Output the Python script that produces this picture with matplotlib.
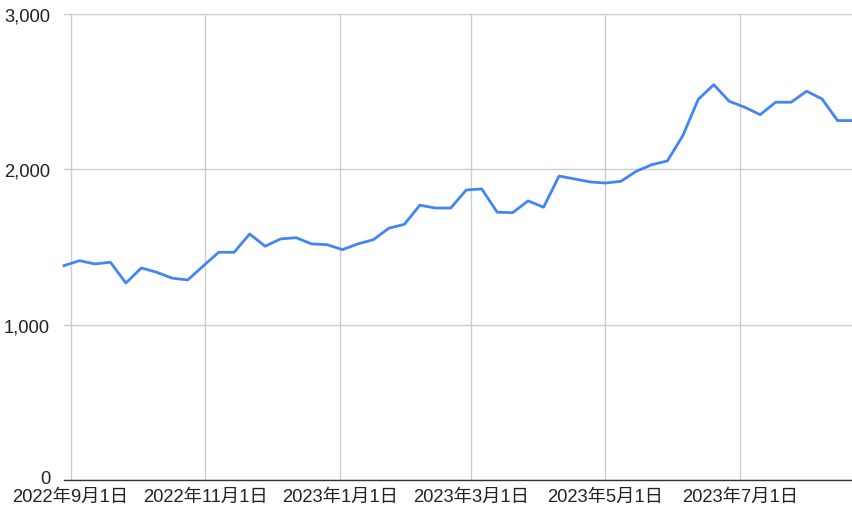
import matplotlib
matplotlib.use("Agg")
import matplotlib.pyplot as plt
import matplotlib.ticker as mticker
import matplotlib.transforms as mtransforms
import pandas as pd

plt.rcParams['font.family'] = ['Liberation Sans', 'Noto Sans CJK JP', 'DejaVu Sans']

dates = pd.date_range("2022-08-29", periods=52, freq="7D")
values = [1380, 1412, 1391, 1402, 1268, 1365, 1337, 1299, 1288, 1378,
          1466, 1466, 1584, 1505, 1552, 1560, 1520, 1515, 1483, 1520,
          1547, 1621, 1646, 1769, 1751, 1751, 1867, 1874, 1724, 1721,
          1797, 1756, 1957, 1938, 1919, 1912, 1923, 1988, 2030, 2054,
          2217, 2451, 2545, 2438, 2400, 2352, 2432, 2432, 2503, 2453,
          2314, 2314]
tick_dates = pd.to_datetime(["2022-09-01", "2022-11-01", "2023-01-01",
                             "2023-03-01", "2023-05-01", "2023-07-01"])
tick_labels = ["2022年9月1日", "2022年11月1日", "2023年1月1日",
               "2023年3月1日", "2023年5月1日", "2023年7月1日"]
y_ticks = [0, 1000, 2000, 3000]

fig = plt.figure(figsize=(8.53, 5.10), dpi=100)
ax = fig.add_axes([64/853, 1-481/510, 1-64/853, (481-15)/510])

ax.plot(dates, values, color="#4285F4", linewidth=2.0, solid_joinstyle="round", zorder=3, clip_on=False)

ax.set_xlim(dates[0], dates[-1])
ax.set_ylim(0, 3000)
ax.set_xticks(tick_dates)
ax.set_xticklabels(tick_labels)
ax.set_yticks(y_ticks)
ax.yaxis.set_major_formatter(mticker.FuncFormatter(lambda v, p: f"{int(v):,}"))

ax.grid(True, color="#cccccc", linewidth=1.0)
ax.set_axisbelow(True)
for s in ["top", "right", "left"]:
    ax.spines[s].set_visible(False)
ax.spines["bottom"].set_color("#333333")
ax.spines["bottom"].set_linewidth(1.0)
ax.spines["bottom"].set_zorder(4)

ax.tick_params(axis="both", length=0, labelsize=13.2, colors="#222222")
ax.tick_params(axis="x", pad=6)
ax.tick_params(axis="y", pad=10)

# nudge the "0" label slightly upward so it does not collide with the first date label
fig.canvas.draw()
zero_lbl = ax.get_yticklabels()[0]
zero_lbl.set_transform(zero_lbl.get_transform() +
                       mtransforms.ScaledTranslation(0, 3/100, fig.dpi_scale_trans))

fig.savefig("out.png", dpi=100)
